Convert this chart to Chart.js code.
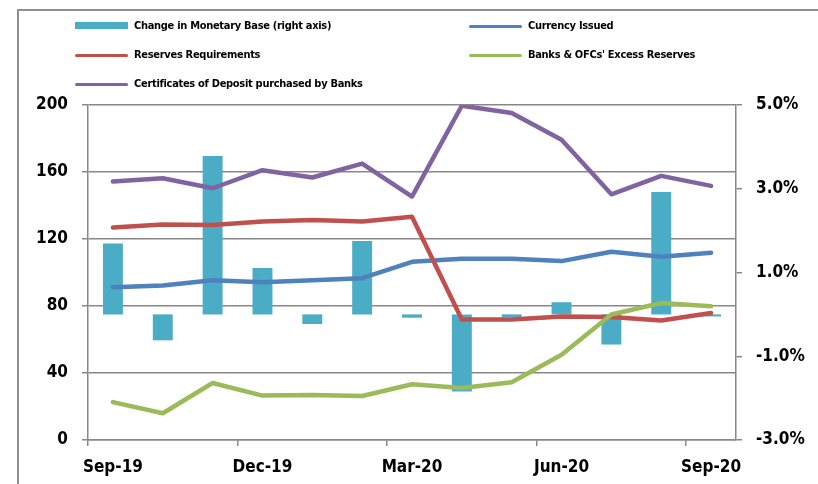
<!DOCTYPE html>
<html>
<head>
<meta charset="utf-8">
<script src="https://cdn.jsdelivr.net/npm/chart.js@4"></script>
<style>
  body { margin: 0; background: #fff; }
  #wrap { position: relative; width: 818px; height: 484px; overflow: hidden; }
  #frame { position: absolute; left: 17px; top: 9px; width: 900px; height: 600px;
    border: 2px solid #8f8f8f; box-sizing: border-box; }
  #chart { position: absolute; left: 0; top: 0; }
  .lg { position: absolute; font: bold 11px "Liberation Sans Narrow", "DejaVu Sans Condensed", sans-serif;
    letter-spacing: -0.3px; color: #000; white-space: nowrap; line-height: 14px; }
  .lg i { position: absolute; left: -59px; top: 6px; width: 53px; height: 3px; border-radius: 2px; }
  .lg i.bar { top: 3px; height: 7px; border-radius: 0; }
</style>
</head>
<body>
<div id="wrap">
  <div id="frame"></div>
  <canvas id="chart" width="818" height="484"></canvas>
  <div id="legend"></div>
</div>
<script>
"use strict";

const months = ["Sep-19", "Oct-19", "Nov-19", "Dec-19", "Jan-20", "Feb-20", "Mar-20",
  "Apr-20", "May-20", "Jun-20", "Jul-20", "Aug-20", "Sep-20"];
// right axis, %
const monetaryBase = [1.69, -0.62, 3.78, 1.11, -0.23, 1.75, -0.08, -1.84, -0.07, 0.29, -0.72, 2.92, -0.05];
// left axis
const currency = [91.2, 92.2, 95.4, 94.2, 95.4, 96.6, 106.4, 108.2, 108.2, 106.8, 112.4, 109.4, 111.8];
const reserveReq = [126.8, 128.7, 128.3, 130.4, 131.3, 130.4, 133.3, 71.9, 71.9, 73.8, 73.4, 71.3, 75.8];
const excessRes = [22.6, 16.0, 34.0, 26.5, 26.9, 26.3, 33.3, 31.0, 34.5, 50.9, 74.9, 81.8, 79.8];
const cdBanks = [154.3, 156.3, 150.3, 161.1, 156.7, 165.0, 145.3, 199.6, 195.2, 179.2, 146.7, 157.7, 151.7];

const GRID = "#888";
const TICK_FONT = { family: '"Liberation Sans Narrow", "DejaVu Sans Condensed", sans-serif', size: 17, weight: "bold" };

const legendItems = [
  { label: "Change in Monetary Base (right axis)", color: "#4bacc6", bar: true, x: 134, y: 19 },
  { label: "Currency Issued", color: "#4f81bd", x: 528, y: 19 },
  { label: "Reserves Requirements", color: "#c0504d", x: 134, y: 48 },
  { label: "Banks & OFCs' Excess Reserves", color: "#9bbb59", x: 528, y: 48 },
  { label: "Certificates of Deposit purchased by Banks", color: "#8064a2", x: 134, y: 77 },
];

document.getElementById("legend").innerHTML = legendItems.map((it) =>
  `<div class="lg" style="left:${it.x}px;top:${it.y}px"><i class="${it.bar ? "bar" : ""}" style="background:${it.color}"></i>${it.label}</div>`
).join("");

function line(label, data, color, order) {
  return { type: "line", label, data, borderColor: color, backgroundColor: color, borderWidth: 4.5,
    pointRadius: 0, borderCapStyle: "round", borderJoinStyle: "round", tension: 0, yAxisID: "y", order };
}

new Chart(document.getElementById("chart"), {
  data: {
    labels: months,
    datasets: [
      { type: "bar", label: "Change in Monetary Base (right axis)", data: monetaryBase, backgroundColor: "#4bacc6",
        yAxisID: "y1", categoryPercentage: 1, barPercentage: 0.4, order: 10 },
      line("Currency Issued", currency, "#4f81bd", 4),
      line("Reserves Requirements", reserveReq, "#c0504d", 3),
      line("Banks & OFCs' Excess Reserves", excessRes, "#9bbb59", 2),
      line("Certificates of Deposit purchased by Banks", cdBanks, "#8064a2", 1),
    ],
  },
  options: {
    responsive: false, animation: false,
    layout: { padding: { top: 105, left: 0, right: 0, bottom: 0 } },
    plugins: { legend: { display: false }, tooltip: { enabled: false } },
    scales: {
      x: {
        offset: true,
        grid: { offset: true, drawOnChartArea: false, tickLength: 6, lineWidth: 1.5,
          color: (c) => (c.index % 3 === 0 ? GRID : "rgba(0,0,0,0)") },
        border: { color: GRID, width: 1.5 },
        ticks: { autoSkip: false, maxRotation: 0, padding: 11, color: "#000", font: TICK_FONT,
          callback: (v, i) => (i % 3 === 0 ? months[i] : "") },
        afterFit: (s) => { s.height = 44; },
      },
      y: {
        position: "left", min: 0, max: 200,
        ticks: { stepSize: 40, padding: 14, color: "#000", font: TICK_FONT },
        grid: { color: GRID, lineWidth: 1.5, tickLength: 6 },
        border: { color: GRID, width: 1.5 },
        afterFit: (s) => { s.width = 88; },
      },
      y1: {
        position: "right", min: -3, max: 5,
        ticks: { stepSize: 2, padding: 14, color: "#000", font: TICK_FONT,
          callback: (v) => v.toFixed(1) + "%" },
        grid: { drawOnChartArea: false, color: GRID, lineWidth: 1.5, tickLength: 6 },
        border: { color: GRID, width: 1.5 },
        afterFit: (s) => { s.width = 82; },
      },
    },
  },
});
</script>
</body>
</html>
